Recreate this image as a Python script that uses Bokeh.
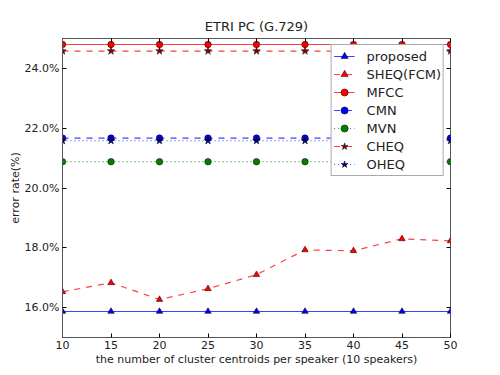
from bokeh.plotting import figure
from bokeh.embed import file_html
from bokeh.resources import INLINE
from bokeh.models import FixedTicker, PrintfTickFormatter, LinearAxis, Range1d

x = [10, 15, 20, 25, 30, 35, 40, 45, 50]
proposed = [15.87] * 9
sheq = [16.53, 16.83, 16.27, 16.63, 17.10, 17.93, 17.90, 18.30, 18.23]
mfcc = [24.80] * 9
cmn = [21.67] * 9
mvn = [20.88] * 9
cheq = [24.58] * 9
oheq = [21.58] * 9
y_ticks = [16, 18, 20, 22, 24]

series = [
    ("proposed", proposed, "blue", "solid", "triangle"),
    ("SHEQ(FCM)", sheq, "red", "6 6", "triangle"),
    ("MFCC", mfcc, "red", "solid", "circle"),
    ("CMN", cmn, "blue", "6 6", "circle"),
    ("MVN", mvn, "green", "1 3", "circle"),
    ("CHEQ", cheq, "red", "6 6", "star"),
    ("OHEQ", oheq, "blue", "1 3", "star"),
]

FONT = "DejaVu Sans"

p = figure(width=500, height=375, output_backend="svg", toolbar_location=None,
           x_range=Range1d(10, 50), y_range=Range1d(15, 25),
           min_border_left=62, min_border_right=50, min_border_top=38, min_border_bottom=38,
           title="ETRI PC (G.729)")
p.title.align = "center"
p.title.text_font = FONT
p.title.text_font_size = "13px"
p.title.text_font_style = "normal"
p.title.text_color = "#222222"
p.grid.visible = False
p.outline_line_color = "#555555"
p.outline_line_width = 1

for name, ys, col, dash, mk in series:
    p.line(x, ys, line_color=col, line_dash=dash, line_width=1.2, line_alpha=0.75, legend_label=name)
    size = 8 if mk == "star" else 6.5
    mcol = "navy" if (mk == "star" and col == "blue") else ("darkred" if mk == "star" else col)
    p.scatter(x, ys, marker=mk, size=size, fill_color=col if mk != "star" else mcol,
              line_color="black", line_width=0.5, legend_label=name)

for ax in [p.xaxis[0], p.yaxis[0]]:
    ax.major_tick_in = 4
    ax.major_tick_out = 0
    ax.minor_tick_line_color = None
    ax.axis_line_color = "#555555"
    ax.major_label_text_font = FONT
    ax.major_label_text_font_size = "11px"
    ax.major_label_text_color = "#222222"
    ax.axis_label_text_font = FONT
    ax.axis_label_text_font_size = "11px"
    ax.axis_label_text_font_style = "normal"
    ax.axis_label_text_color = "#222222"

p.xaxis.ticker = FixedTicker(ticks=x)
p.yaxis.ticker = FixedTicker(ticks=y_ticks)
p.yaxis.formatter = PrintfTickFormatter(format="%.1f%%")
p.xaxis.axis_label = "the number of cluster centroids per speaker (10 speakers)"
p.yaxis.axis_label = "error rate(%)"
p.xaxis.major_label_standoff = 3
p.yaxis.major_label_standoff = 3
p.xaxis.axis_label_standoff = 1
p.yaxis.axis_label_standoff = 0

top = LinearAxis(ticker=FixedTicker(ticks=x), major_label_overrides={t: "" for t in x},
                 major_tick_in=4, major_tick_out=0, minor_tick_line_color=None,
                 axis_line_color=None, major_label_standoff=0)
right = LinearAxis(ticker=FixedTicker(ticks=y_ticks), major_label_overrides={t: "" for t in y_ticks},
                   major_tick_in=4, major_tick_out=0, minor_tick_line_color=None,
                   axis_line_color=None, major_label_standoff=0)
p.add_layout(top, "above")
p.add_layout(right, "right")

lg = p.legend[0]
lg.location = "top_right"
lg.margin = 6
lg.label_text_font = FONT
lg.label_text_font_size = "13px"
lg.label_text_color = "#222222"
lg.border_line_color = "#555555"
lg.border_line_width = 1
lg.glyph_width = 21
lg.glyph_height = 18
lg.label_height = 18
lg.spacing = 0
lg.padding = 2
lg.label_standoff = 12
lg.background_fill_alpha = 1.0

open("out.html", "w").write(file_html(p, INLINE))
